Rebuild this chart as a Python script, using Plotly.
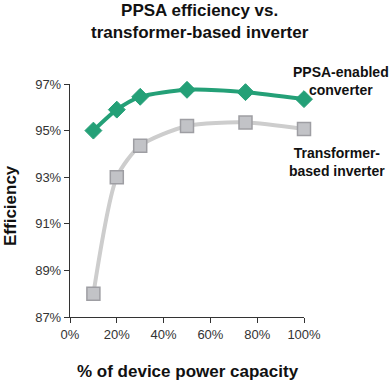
import plotly.graph_objects as go

load_pct = [10, 20, 30, 50, 75, 100]
ppsa_eff = [95.0, 95.9, 96.45, 96.75, 96.65, 96.35]
xfmr_eff = [88.0, 93.0, 94.35, 95.2, 95.35, 95.07]
x_ticks = [0, 20, 40, 60, 80, 100]
y_ticks = [87, 89, 91, 93, 95, 97]

FONT = "Liberation Sans, Arial, Helvetica, sans-serif"
GREEN = "#24a077"

L, R, T, B = 70, 304, 84, 317
W, H = 391, 383
pw, ph = R - L, B - T

def px(x):
    return (x - L) / pw

def py(y):
    return (B - y) / ph

fig = go.Figure()
fig.add_trace(go.Scatter(
    x=load_pct, y=xfmr_eff, mode="lines+markers",
    line=dict(color="#cdcdcd", width=4, shape="spline", smoothing=0.7),
    marker=dict(symbol="square", size=13, color="#c2c3c7", line=dict(color="#9e9ea3", width=1.5)),
    cliponaxis=False, showlegend=False, hoverinfo="skip"))
fig.add_trace(go.Scatter(
    x=load_pct, y=ppsa_eff, mode="lines+markers",
    line=dict(color=GREEN, width=4, shape="spline", smoothing=0.7),
    marker=dict(symbol="diamond", size=13, color=GREEN, line=dict(color=GREEN, width=1)),
    cliponaxis=False, showlegend=False, hoverinfo="skip"))

fig.update_layout(
    template="none",
    width=W, height=H,
    margin=dict(l=L, r=W - R, t=T, b=H - B, autoexpand=False),
    paper_bgcolor="white", plot_bgcolor="white",
    font=dict(family=FONT, color="#222"),
    xaxis=dict(range=[0, 100], tickvals=x_ticks, ticktext=[f"{v}%" for v in x_ticks],
               showgrid=False, zeroline=False, showline=True, linecolor="#333", linewidth=1.2,
               ticks="outside", ticklen=5, tickcolor="#333", automargin=False,
               tickfont=dict(size=13, color="#333", family=FONT)),
    yaxis=dict(range=[87, 97], tickvals=y_ticks, ticktext=[f"{v}%" for v in y_ticks],
               showgrid=False, zeroline=False, showline=True, linecolor="#333", linewidth=1.2,
               ticks="outside", ticklen=5, tickcolor="#333", automargin=False,
               tickfont=dict(size=13, color="#333", family=FONT)),
    annotations=[
        dict(text="<b>PPSA efficiency vs.<br>transformer-based inverter</b>", xref="paper", yref="paper",
             x=px(200), y=py(21), xanchor="center", yanchor="middle", showarrow=False,
             font=dict(size=17, color="#111", family=FONT)),
        dict(text="<b>PPSA-enabled<br>converter</b>", xref="paper", yref="paper",
             x=px(341), y=py(81), xanchor="center", yanchor="middle", showarrow=False,
             font=dict(size=14, color="#111", family=FONT)),
        dict(text="<b>Transformer-<br>based inverter</b>", xref="paper", yref="paper",
             x=px(337), y=py(162), xanchor="center", yanchor="middle", showarrow=False,
             font=dict(size=14, color="#111", family=FONT)),
        dict(text="<b>% of device power capacity</b>", xref="paper", yref="paper",
             x=px(188), y=py(371), xanchor="center", yanchor="middle", showarrow=False,
             font=dict(size=17, color="#111", family=FONT)),
        dict(text="<b>Efficiency</b>", xref="paper", yref="paper", textangle=-90,
             x=px(10), y=py(206), xanchor="center", yanchor="middle", showarrow=False,
             font=dict(size=17, color="#111", family=FONT)),
    ],
)
fig.write_html("out.html", config={"displayModeBar": False, "staticPlot": True},
               post_script="document.body.style.margin='0';document.body.style.overflow='hidden';")
